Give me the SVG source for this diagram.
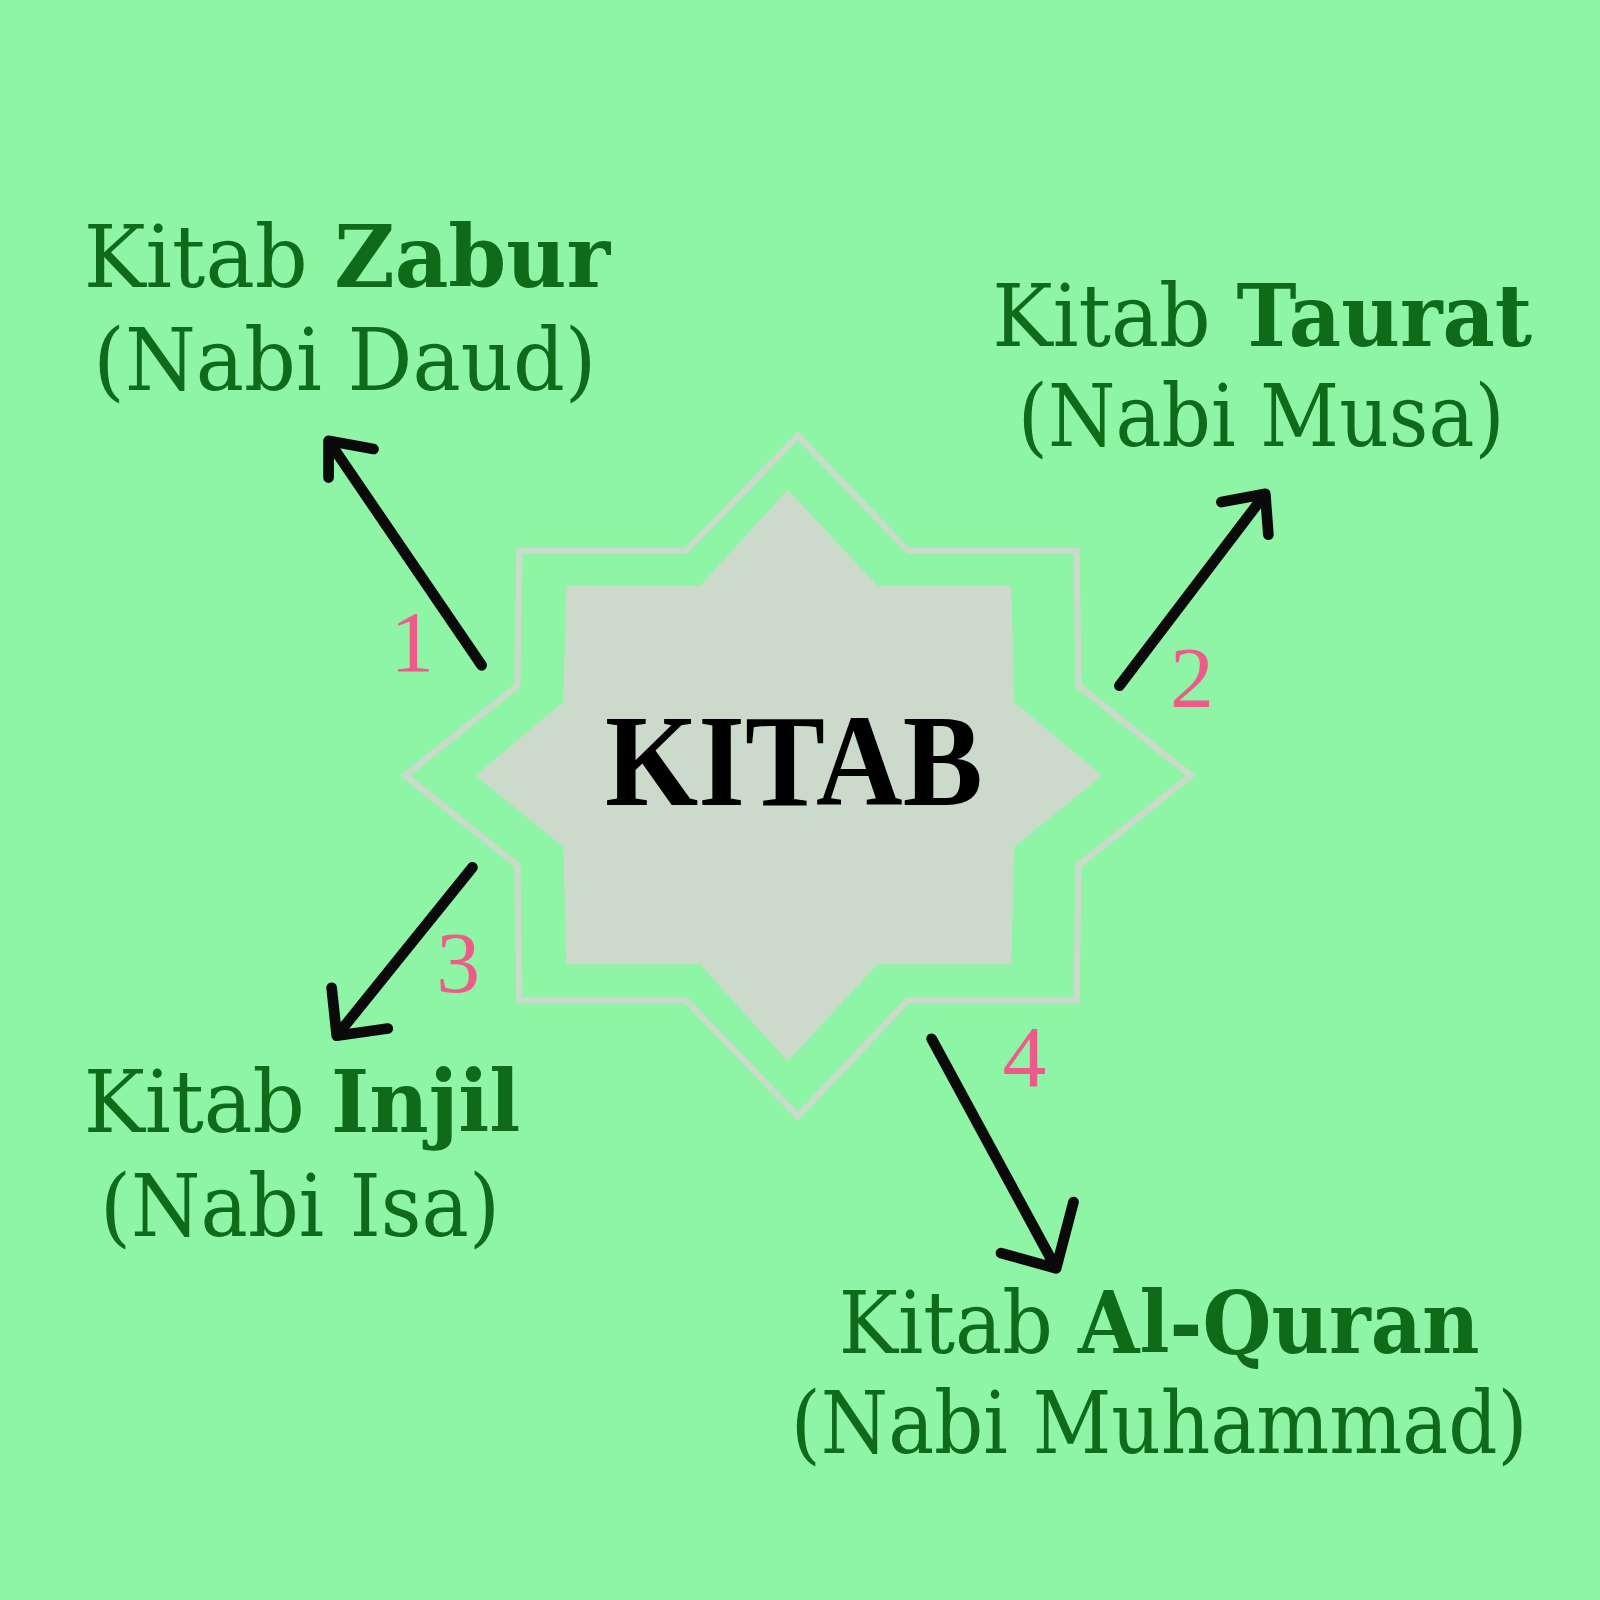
<svg xmlns="http://www.w3.org/2000/svg" width="1600" height="1600" viewBox="0 0 1600 1600">
<style>
.lbl{font-family:"DejaVu Serif","Liberation Serif",serif;fill:#0f6b1a;font-size:84px;text-anchor:middle}
.b{font-weight:bold}
.num{font-family:"Liberation Serif","DejaVu Serif",serif;fill:#ee5a8a;font-size:86px;text-anchor:middle}
.arr{fill:none;stroke:#0a0a0a;stroke-width:10.5;stroke-linecap:round;stroke-linejoin:round}
</style>
<rect width="1600" height="1600" fill="#8ff5a6"/>
<g transform="scale(1.0204)">
<g id="star">
<polygon points="782,427 672,540 509,540 507,672 397,760 507,848 509,980 672,980 782,1094 890,980 1055,980 1057,848 1167,760 1057,672 1055,540 890,540" fill="none" stroke="#cbdacb" stroke-width="6"/>
<polygon points="772,480 686,574 555,574 552,688 466,760 552,830 555,945 686,945 772,1040 860,945 991,945 994,830 1080,760 994,688 991,574 860,574" fill="#cbdacb"/>
<text x="778" y="789" font-family="Liberation Serif,DejaVu Serif,serif" font-weight="bold" font-size="128" fill="#000" text-anchor="middle" textLength="370" lengthAdjust="spacingAndGlyphs">KITAB</text>
</g>
<g id="connectors">
<path class="arr" d="M472,652 L322,432 M366,440 L322,432 L322,468"/>
<path class="arr" d="M1097,672 L1240,484 M1197,492 L1240,484 L1243,524"/>
<path class="arr" d="M463,850 L330,1015 M325,968 L330,1015 L380,1008"/>
<path class="arr" d="M913,1018 L1035,1243 M981,1228 L1035,1243 L1052,1178"/>
</g>
<g id="num1"><text class="num" x="404" y="658">1</text></g>
<g id="num2"><text class="num" x="1168" y="693">2</text></g>
<g id="num3"><text class="num" x="449" y="972">3</text></g>
<g id="num4"><text class="num" x="1004" y="1064">4</text></g>
<g id="zabur">
<text class="lbl" x="340" y="281" textLength="516" lengthAdjust="spacingAndGlyphs">Kitab <tspan class="b">Zabur</tspan></text>
<text class="lbl" x="338" y="382" textLength="493" lengthAdjust="spacingAndGlyphs">(Nabi Daud)</text>
</g>
<g id="taurat">
<text class="lbl" x="1237" y="339" textLength="529" lengthAdjust="spacingAndGlyphs">Kitab <tspan class="b">Taurat</tspan></text>
<text class="lbl" x="1236" y="437" textLength="477" lengthAdjust="spacingAndGlyphs">(Nabi Musa)</text>
</g>
<g id="injil">
<text class="lbl" x="296" y="1109" textLength="428" lengthAdjust="spacingAndGlyphs">Kitab <tspan class="b">Injil</tspan></text>
<text class="lbl" x="294" y="1211" textLength="392" lengthAdjust="spacingAndGlyphs">(Nabi Isa)</text>
</g>
<g id="quran">
<text class="lbl" x="1136" y="1326" textLength="628" lengthAdjust="spacingAndGlyphs">Kitab <tspan class="b">Al-Quran</tspan></text>
<text class="lbl" x="1136" y="1424" textLength="722" lengthAdjust="spacingAndGlyphs">(Nabi Muhammad)</text>
</g>
</g>
</svg>
